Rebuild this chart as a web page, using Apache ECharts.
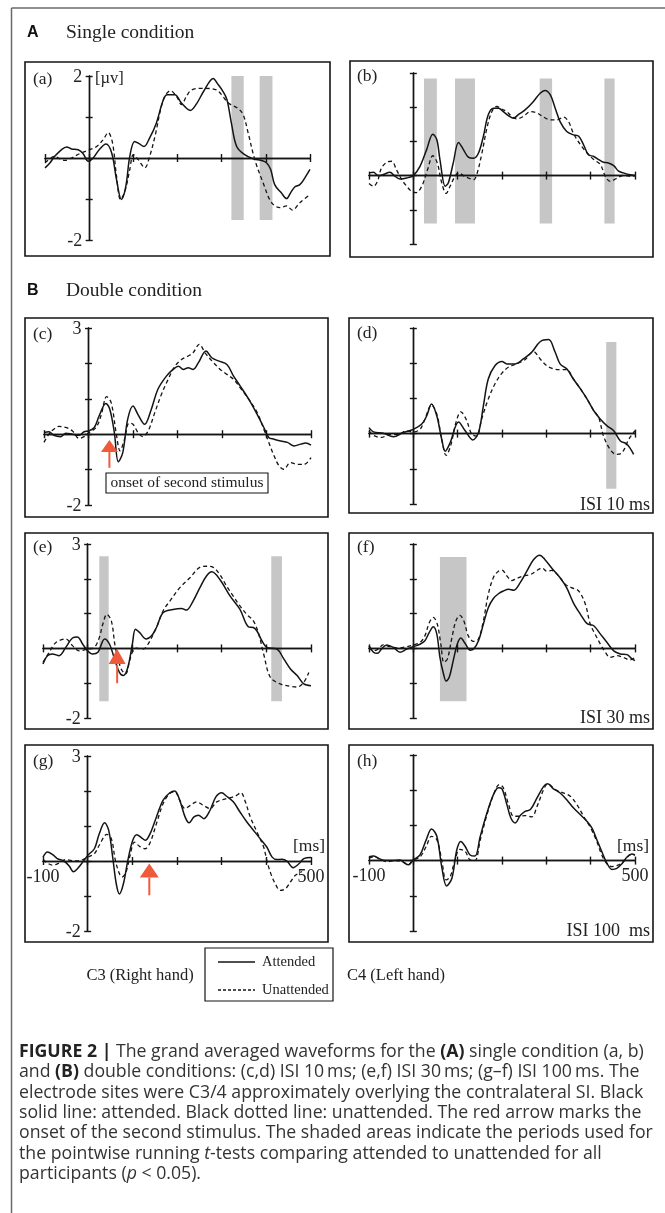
<!DOCTYPE html>
<html><head><meta charset="utf-8">
<script src="https://cdn.jsdelivr.net/npm/echarts@6/dist/echarts.min.js"></script>
<style>html,body{margin:0;padding:0;background:#fff}#chart{width:665px;height:1213px}</style>
</head><body><div id="chart"></div>
<script>
// ===================== DATA =====================
const xRange = [-100, 500];
const xStep = 100;
const yRangeA = [-2, 2];
const yRangeOther = [-2, 3];
const yStep = 1;

// (a) single condition, C3
const aAtt = [[-100,-0.24],[-89,-0.12],[-78,0.04],[-63,0.2],[-51,0.27],[-40,0.22],[-25,0.2],[-14,0.11],[-2,-0.08],[9,0],[24,0.22],[38,0.34],[51,0.12],[62,-0.53],[73,-1.01],[83,-0.69],[92,0.04],[103,0.4],[113,0.35],[124,0.28],[137,0.49],[152,0.85],[168,1.42],[177,1.54],[194,1.54],[209,1.34],[229,1.16],[243,1.32],[260,1.64],[281,1.94],[290,1.82],[302,1.64],[312,1.42],[322,0.85],[334,0.28],[352,0.08],[371,-0.02],[390,-0.06],[402,-0.12],[411,-0.28],[420,-0.65],[435,-0.85],[447,-0.99],[456,-0.85],[466,-0.7],[477,-0.65],[488,-0.49],[500,-0.28]];
const aUn = [[-100,-0.12],[-89,-0.02],[-78,0.04],[-66,-0.02],[-55,-0.06],[-40,0],[-21,0.11],[-2,0.19],[17,0.28],[32,0.45],[43,0.62],[53,0.36],[62,-0.45],[71,-1.01],[81,-0.81],[92,-0.28],[100,0.08],[111,-0.04],[126,-0.24],[137,0.04],[149,0.53],[168,1.42],[184,1.64],[198,1.5],[209,1.3],[220,1.5],[232,1.66],[258,1.7],[288,1.66],[303,1.5],[315,1.34],[337,1.21],[349,1.05],[360,0.61],[375,-0.04],[394,-0.61],[413,-1.09],[432,-1.21],[447,-1.17],[460,-1.27],[477,-1.09],[500,-0.89]];
const aShade = [[322,350],[386,415]];
const aShadeY = [2.0,-1.51];

// (b) single condition, C4
const bAtt = [[-100,0.08],[-90,0.1],[-79,0],[-68,0.03],[-53,0.1],[-41,-0.02],[-30,-0.1],[-15,-0.07],[0,0],[15,0.27],[30,0.76],[44,1.21],[53,1.05],[60,0.47],[72,-0.31],[79,-0.21],[90,0.37],[102,0.97],[113,0.76],[124,0.54],[136,0.51],[147,0.66],[158,1.15],[169,1.78],[181,1.97],[192,1.97],[203,1.87],[215,1.75],[226,1.68],[237,1.78],[252,1.92],[271,2.17],[286,2.41],[297,2.49],[309,2.36],[320,1.97],[331,1.58],[346,1.29],[361,1.19],[373,1.15],[384,0.9],[395,0.61],[407,0.56],[418,0.47],[429,0.39],[440,0.37],[452,0.29],[463,0.13],[474,0.08],[486,0.03],[500,0]];
const bUn = [[-100,-0.23],[-90,-0.31],[-81,-0.17],[-72,0.22],[-60,0.39],[-49,0.42],[-38,0.17],[-26,-0.12],[-15,-0.31],[-4,-0.46],[6,-0.5],[19,-0.31],[32,0.17],[44,0.58],[54,0.37],[64,-0.21],[74,-0.52],[83,-0.31],[94,-0.02],[102,0.08],[113,0],[124,-0.07],[136,-0.12],[143,0.03],[154,0.61],[166,1.39],[177,1.87],[188,2.02],[200,1.94],[211,1.87],[222,1.73],[233,1.66],[248,1.73],[264,1.87],[279,1.83],[294,1.71],[309,1.63],[324,1.63],[339,1.71],[350,1.58],[361,1.24],[377,0.9],[392,0.66],[407,0.47],[422,0.32],[433,-0.02],[444,-0.17],[456,-0.1],[467,-0.02],[478,0],[489,-0.02],[500,0]];
const bShade = [[24,53],[94,139],[285,313],[431,454]];
const bShadeY = [2.84,-1.4];

// (c) ISI 10 ms, C3
const cAtt = [[-100,0.05],[-89,0.07],[-78,-0.03],[-63,-0.07],[-51,0.03],[-36,0],[-21,-0.03],[-10,0.07],[0,0.09],[13,0.19],[24,0.52],[39,0.87],[48,0.7],[58,0.05],[67,-0.78],[77,-0.52],[88,0.42],[100,0.8],[111,0.56],[126,0.28],[141,0.7],[156,1.27],[175,1.64],[190,1.83],[202,1.92],[213,1.83],[224,1.88],[235,1.83],[247,2.02],[264,2.35],[277,2.16],[292,2.07],[311,1.97],[326,1.64],[341,1.36],[360,0.99],[379,0.56],[394,0.19],[405,-0.09],[417,-0.14],[432,-0.19],[447,-0.23],[462,-0.33],[477,-0.28],[488,-0.25],[500,-0.31]];
const cUn = [[-100,-0.23],[-89,0],[-78,0.14],[-66,0.22],[-51,0.19],[-36,0.09],[-21,-0.12],[-10,-0.07],[2,0.05],[17,0.19],[28,0.52],[41,1.06],[51,0.89],[62,0.05],[71,-0.47],[81,-0.14],[91,0.31],[100,0.28],[111,0.05],[122,-0.07],[134,0.09],[149,0.61],[164,1.13],[179,1.55],[194,1.92],[209,2.11],[224,2.21],[235,2.3],[249,2.54],[262,2.3],[281,2.02],[296,1.83],[311,1.69],[326,1.55],[341,1.31],[360,0.99],[379,0.61],[394,0.14],[405,-0.23],[417,-0.61],[428,-0.89],[439,-0.99],[454,-0.8],[469,-0.85],[485,-0.85],[500,-0.66]];
const cArrow = [47, -0.16, -0.5, -0.95]; // onset time, tip, base, shaft end

// (d) ISI 10 ms, C4
const dAtt = [[-100,0.17],[-90,0.05],[-68,0.01],[-45,-0.09],[-23,0.03],[0,0.12],[19,0.27],[30,0.5],[41,0.84],[53,0.5],[64,-0.16],[72,-0.5],[83,-0.26],[102,0.33],[117,0.08],[134,-0.18],[147,0.03],[158,0.79],[169,1.55],[184,1.93],[200,2.05],[211,1.98],[230,1.98],[248,2.12],[267,2.31],[286,2.61],[305,2.67],[320,2.31],[331,1.98],[346,1.84],[361,1.55],[377,1.27],[392,0.98],[407,0.65],[422,0.41],[437,0.22],[452,0.08],[467,-0.21],[482,-0.3],[497,-0.59]];
const dUn = [[-100,0.08],[-90,-0.05],[-72,-0.11],[-53,-0.02],[-34,-0.02],[-15,0.08],[0,0.05],[15,0.12],[26,0.41],[41,0.81],[53,0.55],[64,-0.16],[74,-0.62],[84,-0.35],[96,0.31],[107,0.62],[119,0.41],[132,-0.02],[143,-0.07],[154,0.41],[169,0.98],[184,1.41],[200,1.72],[215,1.89],[233,1.98],[252,2.1],[271,2.33],[286,2.12],[301,1.93],[316,1.84],[331,1.82],[346,1.82],[361,1.55],[377,1.27],[392,0.98],[407,0.65],[418,0.46],[429,-0.07],[444,-0.45],[458,-0.59],[471,-0.54],[486,-0.16],[500,0.08]];
const dShade = [[435,458]];
const dShadeY = [2.6,-1.57];

// (e) ISI 30 ms, C3
const eAtt = [[-100,-0.45],[-90,-0.21],[-79,-0.16],[-64,-0.21],[-49,0.03],[-34,0.3],[-23,0.33],[-11,0.12],[0,-0.07],[11,-0.16],[23,-0.11],[38,0.27],[49,0.12],[60,-0.3],[71,-0.69],[80,-0.78],[90,-0.54],[100,0.12],[107,0.55],[116,0.46],[131,0.27],[143,0.36],[154,0.6],[169,1.03],[191,1.12],[210,1.15],[221,1.1],[236,1.36],[251,1.74],[266,2.08],[278,2.2],[296,1.98],[319,1.5],[341,1.12],[360,0.62],[371,0.6],[379,0.5],[390,0.22],[401,0.03],[424,-0.02],[439,-0.3],[454,-0.59],[469,-0.78],[484,-1.02],[500,-1.07]];
const eUn = [[-100,-0.4],[-86,-0.11],[-71,0.17],[-49,0.27],[-34,0.08],[-19,-0.07],[0,-0.02],[15,0.03],[26,0.31],[34,0.7],[43,0.98],[53,0.79],[62,0.03],[75,-0.59],[85,-0.73],[94,-0.35],[100,-0.11],[109,0.01],[124,-0.02],[135,0.12],[154,0.6],[169,1.08],[184,1.36],[206,1.74],[229,2.03],[251,2.33],[266,2.36],[281,2.33],[296,2.12],[311,1.79],[326,1.5],[341,1.22],[356,0.98],[371,0.79],[383,0.41],[394,-0.16],[409,-0.83],[431,-1.02],[454,-1.09],[469,-1.11],[484,-0.97],[495,-0.69]];
const eShade = [[26,47],[411,435]];
const eShadeY = [2.65,-1.52];
const eArrow = [66, 0, -0.47, -1.0];

// (f) ISI 30 ms, C4
const fAtt = [[-100,0.08],[-90,-0.11],[-81,-0.14],[-72,-0.02],[-60,0.1],[-45,0.03],[-30,-0.11],[-15,-0.02],[0,0.05],[15,0.12],[26,0.22],[36,0.46],[45,0.62],[53,0.41],[60,-0.26],[68,-0.73],[74,-0.94],[81,-0.83],[90,-0.35],[99,0.12],[107,0.3],[117,0.14],[128,-0.05],[136,-0.02],[147,0.22],[158,0.7],[169,1.17],[181,1.44],[192,1.57],[203,1.65],[215,1.7],[226,1.67],[241,1.89],[256,2.22],[271,2.55],[285,2.68],[297,2.55],[312,2.31],[331,2.03],[346,1.74],[361,1.31],[377,0.98],[392,0.71],[407,0.65],[422,0.41],[437,0.17],[452,-0.07],[467,-0.16],[482,-0.18],[493,-0.3],[500,-0.35]];
const fUn = [[-100,0.03],[-90,-0.07],[-79,-0.02],[-68,0.1],[-53,0.05],[-34,0.01],[-15,0.05],[0,0.1],[15,0.17],[26,0.36],[36,0.74],[45,0.89],[54,0.7],[62,0.12],[69,-0.4],[77,-0.3],[87,0.31],[96,0.79],[105,0.95],[114,0.79],[124,0.36],[136,0.2],[147,0.27],[158,0.79],[169,1.55],[181,2.05],[192,2.22],[200,2.25],[211,2.08],[222,1.95],[233,2.01],[248,2.08],[264,2.12],[279,2.24],[290,2.31],[301,2.22],[312,2.24],[328,2.08],[343,1.84],[358,1.74],[373,1.65],[388,1.27],[399,0.7],[410,0.41],[422,0.12],[433,-0.11],[444,-0.26],[459,-0.21],[474,-0.26],[489,-0.33],[500,-0.26]];
const fShade = [[60,120]];
const fShadeY = [2.63,-1.52];

// (g) ISI 100 ms, C3
const gAtt = [[-100,0.11],[-90,0.26],[-79,0.19],[-68,0.07],[-53,0],[-41,-0.15],[-32,-0.31],[-23,-0.22],[-11,-0.03],[0,0.16],[15,0.35],[26,0.78],[38,1.09],[47,0.88],[56,0.11],[64,-0.65],[71,-0.94],[80,-0.65],[90,0.02],[101,0.59],[110,0.75],[120,0.67],[129,0.59],[139,0.76],[154,1.26],[169,1.74],[184,1.95],[195,2.0],[206,1.74],[218,1.26],[227,1.09],[238,1.26],[248,1.31],[260,1.21],[274,1.45],[287,1.83],[300,1.95],[311,1.85],[326,1.69],[341,1.4],[356,1.12],[371,0.88],[386,0.64],[401,0.4],[413,0.11],[424,0.04],[435,0.05],[446,0],[460,-0.19],[473,-0.08],[484,0.07],[500,0.1]];
const gUn = [[-100,0.04],[-90,-0.06],[-79,-0.12],[-64,-0.06],[-49,0.04],[-26,0],[-11,0.04],[0,0.11],[15,0.21],[26,0.45],[43,0.76],[53,0.64],[62,0.02],[71,-0.36],[77,-0.46],[86,-0.31],[95,0.16],[105,0.54],[116,0.42],[128,0.35],[139,0.5],[154,1.07],[169,1.64],[184,1.93],[195,1.98],[206,1.74],[218,1.5],[230,1.59],[244,1.69],[259,1.59],[274,1.5],[289,1.69],[304,1.76],[319,1.81],[330,1.85],[343,1.95],[353,1.69],[364,1.26],[379,0.83],[394,0.4],[401,0.02],[410,-0.36],[420,-0.65],[431,-0.84],[443,-0.79],[454,-0.6],[465,-0.41],[480,-0.3]];
const gArrow = [138, -0.07, -0.47, -0.98];

// (h) ISI 100 ms, C4
const hAtt = [[-100,0.11],[-90,0.13],[-79,0.07],[-64,0],[-45,0],[-30,0.02],[-19,-0.08],[-11,-0.12],[0,0.02],[15,0.16],[29,0.59],[41,0.9],[53,0.69],[64,-0.17],[75,-0.72],[87,-0.5],[98,0.3],[107,0.54],[117,0.4],[128,0.16],[139,0.13],[151,0.69],[166,1.35],[181,1.88],[192,2.07],[200,2.04],[211,1.59],[220,1.21],[230,1.07],[241,1.28],[252,1.4],[264,1.45],[279,1.78],[294,2.11],[303,2.18],[316,2.04],[331,1.92],[346,1.73],[361,1.5],[377,1.3],[392,1.11],[403,0.92],[414,0.59],[425,0.26],[437,-0.08],[448,-0.25],[459,-0.22],[471,-0.08],[482,0.1],[493,0.19],[500,0.16]];
const hUn = [[-100,0.07],[-90,0.11],[-75,0.04],[-60,-0.03],[-41,0],[-26,-0.03],[-11,-0.1],[0,0.02],[15,0.1],[29,0.4],[41,0.69],[53,0.59],[64,0.02],[74,-0.55],[83,-0.46],[94,0.02],[105,0.32],[117,0.26],[128,0.02],[139,0],[151,0.59],[166,1.3],[181,1.88],[194,2.16],[203,2.07],[215,1.59],[226,1.26],[237,1.26],[252,1.28],[267,1.24],[279,1.54],[294,2.02],[303,2.18],[320,2.02],[335,1.94],[354,1.83],[369,1.59],[384,1.26],[399,0.95],[414,0.54],[425,0.16],[437,-0.1],[448,-0.17],[463,-0.12],[478,0.02],[489,0.16],[500,0.16]];

// ===================== LAYOUT / STYLE =====================
const panels = [
  {id:'a', att:aAtt, un:aUn, shade:aShade, shadeY:aShadeY, yr:yRangeA,   grid:{left:45, top:76, width:265, height:164}, box:[25,62,305,194],  yLabels:true},
  {id:'b', att:bAtt, un:bUn, shade:bShade, shadeY:bShadeY, yr:yRangeOther, grid:{left:369,top:73, width:266, height:171}, box:[350,61,303,196]},
  {id:'c', att:cAtt, un:cUn, yr:yRangeOther, arrow:cArrow, arrowSize:[17,12], grid:{left:44, top:328,width:267, height:177}, box:[25,318,303,199], yLabels:true},
  {id:'d', att:dAtt, un:dUn, shade:dShade, shadeY:dShadeY, yr:yRangeOther, grid:{left:369,top:328,width:266, height:176}, box:[349,318,304,195]},
  {id:'e', att:eAtt, un:eUn, shade:eShade, shadeY:eShadeY, yr:yRangeOther, arrow:eArrow, arrowSize:[17,15], grid:{left:43, top:544,width:268, height:174}, box:[25,533,303,196], yLabels:true},
  {id:'f', att:fAtt, un:fUn, shade:fShade, shadeY:fShadeY, yr:yRangeOther, grid:{left:369,top:544,width:266, height:174}, box:[349,533,304,196]},
  {id:'g', att:gAtt, un:gUn, yr:yRangeOther, arrow:gArrow, arrowSize:[19,14], grid:{left:43, top:756,width:268, height:175}, box:[25,745,303,197], yLabels:true, xLabels:true},
  {id:'h', att:hAtt, un:hUn, yr:yRangeOther, grid:{left:369,top:755,width:266, height:176}, box:[349,745,304,197], xLabels:true}
];

const INK = '#141414';
const RED = '#ee5a3a';
const SHADE = '#c6c6c6';
const SERIF = '"Liberation Serif", "Times New Roman", serif';
const SANS = '"Liberation Sans", Arial, sans-serif';

const grids = [], xAxes = [], yAxes = [], series = [];
const axisLineStyle = {color: INK, width: 1.4};

panels.forEach((p, i) => {
  grids.push(Object.assign({containLabel:false}, p.grid));
  ['bottom','top'].forEach((pos) => {
    xAxes.push({
      gridIndex:i, type:'value', min:xRange[0], max:xRange[1], interval:xStep, position:pos, z:3,
      axisLine:{show:true, onZero:true, lineStyle:axisLineStyle},
      axisTick:{show:true, inside:false, length:4, lineStyle:axisLineStyle},
      splitLine:{show:false}, axisLabel:{show:false}
    });
  });
  ['left','right'].forEach((pos) => {
    yAxes.push({
      gridIndex:i, type:'value', min:p.yr[0], max:p.yr[1], interval:yStep, position:pos, z:3,
      axisLine:{show:true, onZero:true, lineStyle:axisLineStyle},
      axisTick:{show:true, inside:false, length:3.5, lineStyle:axisLineStyle},
      splitLine:{show:false}, axisLabel:{show:false}
    });
  });
  const xi = 2*i, yi = 2*i;
  if (p.shade) {
    series.push({
      type:'line', xAxisIndex:xi, yAxisIndex:yi, data:[], silent:true,
      markArea:{silent:true, itemStyle:{color:SHADE, opacity:1},
        data: p.shade.map(s => [{coord:[s[0], p.shadeY[0]]}, {coord:[s[1], p.shadeY[1]]}])}
    });
  }
  series.push({
    name:'Unattended', type:'line', xAxisIndex:xi, yAxisIndex:yi, data:p.un,
    smooth:0.35, symbol:'none', z:4,
    lineStyle:{color:INK, width:1.3, type:[4,3]}
  });
  series.push({
    name:'Attended', type:'line', xAxisIndex:xi, yAxisIndex:yi, data:p.att,
    smooth:0.35, symbol:'none', z:4,
    lineStyle:{color:INK, width:1.5}
  });
  if (p.arrow) {
    const [t, tip, base, end] = p.arrow;
    series.push({
      type:'line', xAxisIndex:xi, yAxisIndex:yi, data:[[t, base],[t, end]],
      symbol:'none', z:6, silent:true, lineStyle:{color:RED, width:2}
    });
    series.push({
      type:'scatter', xAxisIndex:xi, yAxisIndex:yi, data:[[t, (tip+base)/2]],
      symbol:'triangle', symbolSize:p.arrowSize, z:7, silent:true,
      itemStyle:{color:RED, opacity:1}
    });
  }
});

// ---------- static texts / frames ----------
function txt(x, y, text, font, align, fill) {
  return {type:'text', x:x, y:y, z:100, silent:true,
    style:{text:text, font:font, fill:fill || INK, textAlign:align||'left', align:align||'left',
           textVerticalAlign:'middle', verticalAlign:'middle'}};
}
function rect(x, y, w, h, lw, fill) {
  return {type:'rect', z:90, silent:true, shape:{x:x, y:y, width:w, height:h},
    style:{fill: fill || 'none', stroke:INK, lineWidth:lw}};
}
function line(x1, y1, x2, y2, lw, color, dash) {
  return {type:'line', z:100, silent:true, shape:{x1:x1, y1:y1, x2:x2, y2:y2},
    style:{stroke:color || INK, lineWidth:lw, lineDash: dash || null}};
}

const graphics = [];
graphics.push(line(11.5, 8, 665, 8, 1.5, '#6a6a6a'));
graphics.push(line(11.5, 8, 11.5, 1213, 1.5, '#6a6a6a'));
graphics.push(txt(27, 33, 'A', 'bold 16px ' + SANS, 'left', '#111'));
graphics.push(txt(66, 33, 'Single condition', '19.5px ' + SERIF, 'left', '#222'));
graphics.push(txt(27, 291, 'B', 'bold 16px ' + SANS, 'left', '#111'));
graphics.push(txt(66, 291, 'Double condition', '19.5px ' + SERIF, 'left', '#222'));
const labelPos = {a:[33,79], b:[357,76], c:[33,334], d:[357,333], e:[33,547], f:[357,547], g:[33,761], h:[357,761]};
panels.forEach(p => {
  graphics.push(rect(p.box[0], p.box[1], p.box[2], p.box[3], 1.6));
  graphics.push(txt(labelPos[p.id][0], labelPos[p.id][1], '(' + p.id + ')', '17.5px ' + SERIF, 'left', '#222'));
});
graphics.push(txt(95, 79, '[\u00b5v]', '16.5px ' + SERIF, 'left', '#222'));
graphics.push(txt(650, 505, 'ISI 10 ms', '18px ' + SERIF, 'right', '#222'));
graphics.push(txt(650, 718, 'ISI 30 ms', '18px ' + SERIF, 'right', '#222'));
graphics.push(txt(650, 931, 'ISI 100  ms', '18px ' + SERIF, 'right', '#222'));
graphics.push(txt(309, 846, '[ms]', '17.5px ' + SERIF, 'center', '#222'));
graphics.push(txt(633, 846, '[ms]', '17.5px ' + SERIF, 'center', '#222'));
graphics.push(rect(106, 473, 162, 20, 1.1, '#fff'));
graphics.push(txt(187, 483, 'onset of second stimulus', '15.5px ' + SERIF, 'center', '#222'));
graphics.push(rect(205, 948, 128, 53, 1.2));
graphics.push(line(218, 962, 255, 962, 1.4));
graphics.push(line(218, 990, 255, 990, 1.4, INK, [3,2]));
graphics.push(txt(262, 962, 'Attended', '14.5px ' + SERIF, 'left', '#222'));
graphics.push(txt(262, 990, 'Unattended', '14.5px ' + SERIF, 'left', '#222'));
graphics.push(txt(140, 976, 'C3 (Right hand)', '16.5px ' + SERIF, 'center', '#222'));
graphics.push(txt(396, 976, 'C4 (Left hand)', '16.5px ' + SERIF, 'center', '#222'));

const capLines = [
  '{b|FIGURE 2 |} The grand averaged waveforms for the {b|(A)} single condition (a, b)',
  'and {b|(B)} double conditions: (c,d) ISI 10\u2009ms; (e,f) ISI 30\u2009ms; (g\u2013f) ISI 100\u2009ms. The',
  'electrode sites were C3/4 approximately overlying the contralateral SI. Black',
  'solid line: attended. Black dotted line: unattended. The red arrow marks the',
  'onset of the second stimulus. The shaded areas indicate the periods used for',
  'the pointwise running {i|t}-tests comparing attended to unattended for all',
  'participants ({i|p} < 0.05).'
];
const CAP_FONT = 'Open Sans';
const CAP_SIZE = 17.7;
capLines.forEach((s, k) => {
  graphics.push({type:'text', x:19, y:1052 + k*20.35, z:100, silent:true,
    style:{text:s, fontFamily:CAP_FONT, fontSize:CAP_SIZE, fill:'#333',
      textAlign:'left', align:'left', textVerticalAlign:'middle', verticalAlign:'middle',
      rich:{
        b:{fontFamily:CAP_FONT, fontSize:CAP_SIZE, fontWeight:'bold', fill:'#222'},
        i:{fontFamily:CAP_FONT, fontSize:CAP_SIZE, fontStyle:'italic', fill:'#333'}
      }}});
});

const chart = echarts.init(document.getElementById('chart'), null, {renderer:'canvas'});
chart.setOption({
  animation:false,
  backgroundColor:'#fff',
  grid:grids, xAxis:xAxes, yAxis:yAxes, series:series,
  graphic:{elements:graphics}
});

// tick labels placed through the library's own scales
const tickTexts = [];
panels.forEach((p, i) => {
  if (p.yLabels) {
    [p.yr[1], p.yr[0]].forEach(v => {
      const pt = chart.convertToPixel({gridIndex:i}, [0, v]);
      tickTexts.push(txt(pt[0] - 7, pt[1] + 1, String(v), '18px ' + SERIF, 'right', '#222'));
    });
  }
  if (p.xLabels) {
    xRange.forEach(v => {
      const pt = chart.convertToPixel({gridIndex:i}, [v, 0]);
      tickTexts.push(txt(pt[0], pt[1] + 16, String(v), '18px ' + SERIF, 'center', '#222'));
    });
  }
});
chart.setOption({graphic:{elements:graphics.concat(tickTexts)}});
</script>
</body></html>
